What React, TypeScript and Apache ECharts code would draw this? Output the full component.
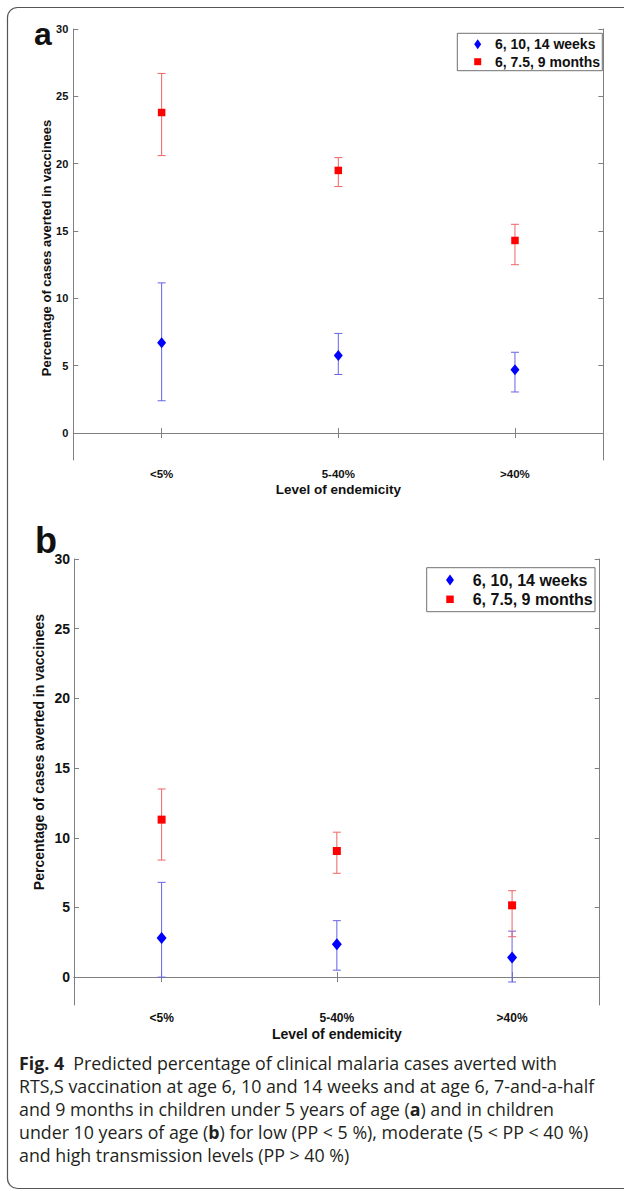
import React, { useEffect, useRef } from "react";
import * as echarts from "echarts";

const categories = ["<5%", "5-40%", ">40%"];
const seriesNames = ["6, 10, 14 weeks", "6, 7.5, 9 months"];
const yTicks = [0, 5, 10, 15, 20, 25, 30];
const yName = "Percentage of cases averted in vaccinees";
const xName = "Level of endemicity";

// Panel a: children under 5 years
const aWeeksMean = [6.7, 5.75, 4.7];
const aWeeksLow = [2.4, 4.35, 3.05];
const aWeeksHigh = [11.15, 7.4, 6.0];
const aMonthsMean = [23.8, 19.5, 14.3];
const aMonthsLow = [20.6, 18.3, 12.5];
const aMonthsHigh = [26.7, 20.45, 15.5];

// Panel b: children under 10 years
const bWeeksMean = [2.8, 2.35, 1.4];
const bWeeksLow = [0.0, 0.5, -0.35];
const bWeeksHigh = [6.8, 4.05, 3.3];
const bMonthsMean = [11.3, 9.05, 5.15];
const bMonthsLow = [8.4, 7.45, 2.9];
const bMonthsHigh = [13.5, 10.4, 6.2];

const captionLines = [
  "{b|Fig. 4}  Predicted percentage of clinical malaria cases averted with",
  "RTS,S vaccination at age 6, 10 and 14 weeks and at age 6, 7-and-a-half",
  "and 9 months in children under 5 years of age ({b|a}) and in children",
  "under 10 years of age ({b|b}) for low (PP < 5 %), moderate (5 < PP < 40 %)",
  "and high transmission levels (PP > 40 %)",
];

const FONT = "'Liberation Sans', Arial, sans-serif";
const CAP_FONT = "'Open Sans', sans-serif";
const AXIS_GRAY = "#808080";
const BLUE = "#0000ff";
const RED = "#ff0000";
const BLUE_BAR = "#6464e8";
const RED_BAR = "#ef6464";

function errorSeries(grid: number, low: number[], high: number[], color: string) {
  return {
    type: "custom",
    xAxisIndex: grid * 2,
    yAxisIndex: grid * 2,
    z: 2,
    silent: true,
    encode: { x: 0, y: [1, 2] },
    data: low.map((l, i) => [i, l, high[i]]),
    renderItem: (params: any, api: any) => {
      const x = api.value(0);
      const lo = api.coord([x, api.value(1)]);
      const hi = api.coord([x, api.value(2)]);
      const cw = 4;
      const style = { stroke: color, lineWidth: 1 };
      return {
        type: "group",
        children: [
          { type: "line", shape: { x1: lo[0], y1: lo[1], x2: hi[0], y2: hi[1] }, style },
          { type: "line", shape: { x1: lo[0] - cw, y1: lo[1], x2: lo[0] + cw, y2: lo[1] }, style },
          { type: "line", shape: { x1: hi[0] - cw, y1: hi[1], x2: hi[0] + cw, y2: hi[1] }, style },
        ],
      };
    },
  };
}

function pointSeries(grid: number, name: string, mean: number[], symbol: string, size: any, color: string) {
  return {
    type: "scatter",
    name,
    xAxisIndex: grid * 2,
    yAxisIndex: grid * 2,
    z: 3,
    symbol,
    symbolSize: size,
    itemStyle: { color, opacity: 1 },
    data: mean.map((v, i) => [i, v]),
  };
}

function xAxes(grid: number, labelSize: number, nameSize: number, margin: number, nameGap: number) {
  return [
    {
      gridIndex: grid,
      type: "category",
      data: categories,
      position: "bottom",
      boundaryGap: true,
      axisLine: { show: true, lineStyle: { color: AXIS_GRAY, width: 1 } },
      axisTick: { show: true, inside: true, alignWithLabel: true, length: 5, lineStyle: { color: AXIS_GRAY } },
      axisLabel: { margin, fontSize: labelSize, fontWeight: "bold", color: "#111", fontFamily: FONT },
      splitLine: { show: false },
      name: xName,
      nameLocation: "middle",
      nameGap,
      nameTextStyle: { fontSize: nameSize, fontWeight: "bold", color: "#111", fontFamily: FONT },
    },
    {
      gridIndex: grid,
      type: "category",
      data: categories,
      position: "top",
      boundaryGap: true,
      axisLine: { show: true, lineStyle: { color: AXIS_GRAY, width: 1 } },
      axisTick: { show: true, inside: true, alignWithLabel: true, length: 5, lineStyle: { color: AXIS_GRAY } },
      axisLabel: { show: false },
      splitLine: { show: false },
    },
  ];
}

function yAxes(grid: number, labelSize: number, margin: number) {
  return [
    {
      gridIndex: grid,
      type: "value",
      min: -2,
      max: 30,
      position: "left",
      axisLine: { show: true, lineStyle: { color: AXIS_GRAY, width: 1 } },
      axisTick: { show: true, inside: true, length: 5, customValues: yTicks, lineStyle: { color: AXIS_GRAY } },
      axisLabel: { margin, fontSize: labelSize, fontWeight: "bold", color: "#111", fontFamily: FONT, customValues: yTicks },
      splitLine: { show: false },
    },
    {
      gridIndex: grid,
      type: "value",
      min: -2,
      max: 30,
      position: "right",
      axisLine: { show: true, lineStyle: { color: AXIS_GRAY, width: 1 } },
      axisTick: { show: true, inside: true, length: 5, customValues: yTicks, lineStyle: { color: AXIS_GRAY } },
      axisLabel: { show: false, customValues: yTicks },
      splitLine: { show: false },
    },
  ];
}

function legendGraphic(x: number, y: number, w: number, h: number, mx: number, tx: number, rows: number[], fs: number, dw: number, dh: number, sq: number) {
  return [
    { type: "rect", shape: { x, y, width: w, height: h }, style: { fill: "#fff", stroke: "#707070", lineWidth: 1 }, z: 10 },
    {
      type: "polygon",
      shape: { points: [[mx, rows[0] - dh / 2], [mx + dw / 2, rows[0]], [mx, rows[0] + dh / 2], [mx - dw / 2, rows[0]]] },
      style: { fill: BLUE },
      z: 11,
    },
    { type: "rect", shape: { x: mx - sq / 2, y: rows[1] - sq / 2, width: sq, height: sq }, style: { fill: RED }, z: 11 },
    { type: "text", x: tx, y: rows[0], style: { text: seriesNames[0], fontSize: fs, fontWeight: "bold", fontFamily: FONT, fill: "#111", align: "left", verticalAlign: "middle" }, z: 11 },
    { type: "text", x: tx, y: rows[1], style: { text: seriesNames[1], fontSize: fs, fontWeight: "bold", fontFamily: FONT, fill: "#111", align: "left", verticalAlign: "middle" }, z: 11 },
  ];
}

export default function App() {
  const ref = useRef<HTMLDivElement>(null);
  useEffect(() => {
    if (!ref.current) return;
    const chart = echarts.init(ref.current, undefined, { renderer: "svg" });
    const captionGraphics = captionLines.map((line, i) => ({
      type: "text",
      x: 19,
      y: 1063 + i * 23,
      style: {
        text: line,
        fontSize: 17.8,
        fontFamily: CAP_FONT,
        fill: "#231f20",
        align: "left",
        verticalAlign: "middle",
        rich: { b: { fontWeight: "bold", fontSize: 17.8, fontFamily: CAP_FONT, fill: "#231f20" } },
      },
    }));
    const option: any = {
      animation: false,
      backgroundColor: "#ffffff",
      grid: [
        { left: 73.3, top: 29, width: 530, height: 431 },
        { left: 74, top: 559, width: 525.7, height: 446 },
      ],
      xAxis: [...xAxes(0, 11.5, 13.5, 8, 22), ...xAxes(1, 12, 14, 7, 22)],
      yAxis: [...yAxes(0, 11, 5), ...yAxes(1, 14, 4)],
      series: [
        errorSeries(0, aWeeksLow, aWeeksHigh, BLUE_BAR),
        errorSeries(0, aMonthsLow, aMonthsHigh, RED_BAR),
        pointSeries(0, seriesNames[0], aWeeksMean, "diamond", [9, 11], BLUE),
        pointSeries(0, seriesNames[1], aMonthsMean, "rect", 7.5, RED),
        errorSeries(1, bWeeksLow, bWeeksHigh, BLUE_BAR),
        errorSeries(1, bMonthsLow, bMonthsHigh, RED_BAR),
        pointSeries(1, seriesNames[0], bWeeksMean, "diamond", [10, 12], BLUE),
        pointSeries(1, seriesNames[1], bMonthsMean, "rect", 8, RED),
      ],
      graphic: [
        { type: "rect", shape: { x: 7.5, y: 7.5, width: 640, height: 1181, r: 10 }, style: { fill: "none", stroke: "#555", lineWidth: 1.2 }, z: 0 },
        { type: "text", x: 34, y: 34, style: { text: "a", fontSize: 32, fontWeight: "bold", fontFamily: FONT, fill: "#111", align: "left", verticalAlign: "middle" } },
        { type: "text", x: 35, y: 540, style: { text: "b", fontSize: 36, fontWeight: "bold", fontFamily: FONT, fill: "#111", align: "left", verticalAlign: "middle" } },
        { type: "text", x: 46, y: 248, rotation: Math.PI / 2, style: { text: yName, fontSize: 13, fontWeight: "bold", fontFamily: FONT, fill: "#111", align: "center", verticalAlign: "middle" } },
        { type: "text", x: 38.5, y: 752, rotation: Math.PI / 2, style: { text: yName, fontSize: 14, fontWeight: "bold", fontFamily: FONT, fill: "#111", align: "center", verticalAlign: "middle" } },
        ...legendGraphic(457.3, 33.3, 145, 37.4, 477.7, 495, [44.3, 61.7], 14, 7, 10, 7),
        ...legendGraphic(426.7, 567.7, 168.3, 44, 450, 472.7, [580, 599.3], 16, 8, 11, 7.5),
        ...captionGraphics,
      ],
    };
    chart.setOption(option);
    return () => chart.dispose();
  }, []);
  return (
    <div
      ref={ref}
      style={{ position: "absolute", left: 0, top: 0, width: 624, height: 1191, background: "#fff" }}
    />
  );
}
